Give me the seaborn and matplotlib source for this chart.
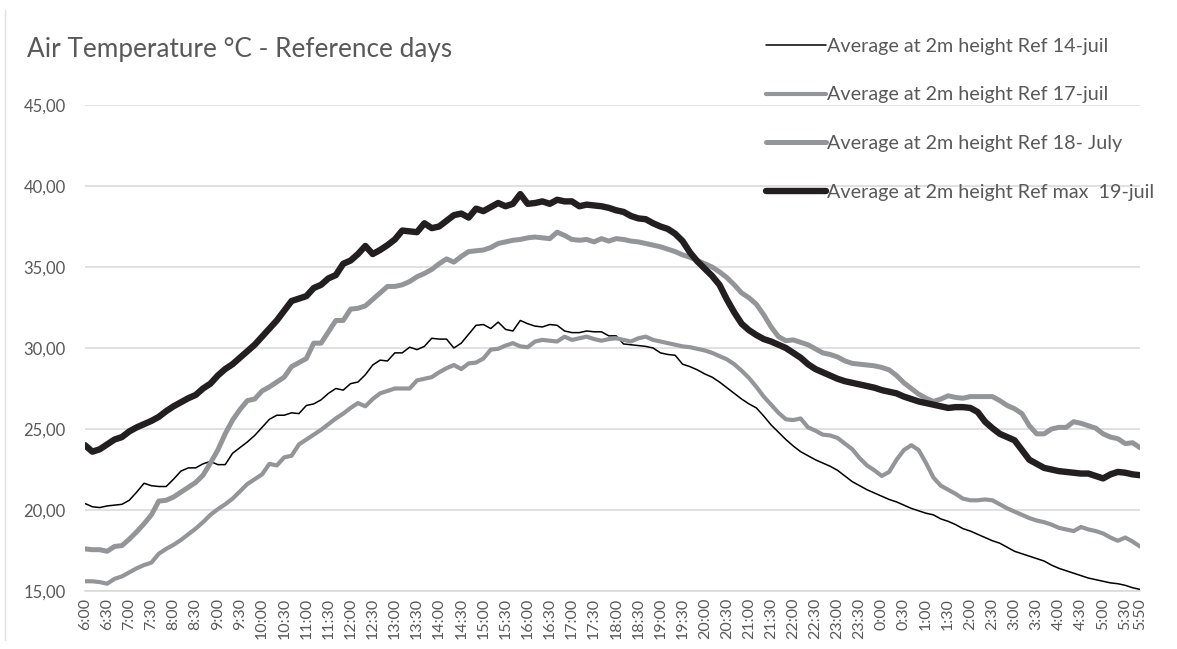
import numpy as np
import pandas as pd
import matplotlib
matplotlib.use("Agg")
import matplotlib.pyplot as plt
import seaborn as sns
from matplotlib.lines import Line2D

# 10-minute steps from 6:00 to 5:50 next day
times = [f"{((6 * 60 + 10 * k) // 60) % 24}:{(10 * k) % 60:02d}" for k in range(144)]

ref_14 = [20.4, 20.2, 20.15, 20.25, 20.3, 20.35, 20.6, 21.1, 21.65, 21.5,
          21.45, 21.45, 21.9, 22.4, 22.6, 22.6, 22.85, 23.0, 22.8, 22.8,
          23.5, 23.85, 24.2, 24.6, 25.1, 25.6, 25.85, 25.85, 26.0, 25.95,
          26.45, 26.55, 26.8, 27.2, 27.5, 27.4, 27.8, 27.9, 28.35, 28.95,
          29.25, 29.2, 29.7, 29.7, 30.05, 29.9, 30.1, 30.6, 30.55, 30.55,
          30.0, 30.3, 30.85, 31.4, 31.45, 31.2, 31.6, 31.15, 31.05, 31.7,
          31.5, 31.35, 31.3, 31.45, 31.4, 31.05, 30.95, 30.95, 31.05, 31.0,
          31.0, 30.75, 30.75, 30.25, 30.2, 30.15, 30.1, 30.0, 29.7, 29.6,
          29.55, 29.0, 28.85, 28.65, 28.4, 28.2, 27.9, 27.55, 27.2, 26.85,
          26.55, 26.3, 25.8, 25.25, 24.8, 24.35, 23.95, 23.6, 23.35, 23.1,
          22.9, 22.7, 22.45, 22.1, 21.75, 21.5, 21.25, 21.05, 20.85, 20.65,
          20.5, 20.3, 20.1, 19.95, 19.8, 19.7, 19.45, 19.3, 19.1, 18.85,
          18.7, 18.5, 18.3, 18.1, 17.95, 17.7, 17.45, 17.3, 17.15, 17.0,
          16.85, 16.6, 16.4, 16.25, 16.1, 15.95, 15.8, 15.7, 15.6, 15.5,
          15.45, 15.35, 15.2, 15.1]

ref_17 = [15.6, 15.6, 15.55, 15.45, 15.75, 15.9, 16.15, 16.4, 16.6, 16.75,
          17.3, 17.6, 17.85, 18.15, 18.5, 18.85, 19.25, 19.7, 20.05, 20.35,
          20.7, 21.15, 21.6, 21.9, 22.2, 22.85, 22.75, 23.25, 23.35, 24.05,
          24.35, 24.65, 24.95, 25.3, 25.65, 25.95, 26.3, 26.6, 26.4, 26.85,
          27.2, 27.35, 27.5, 27.5, 27.5, 28.0, 28.1, 28.2, 28.5, 28.75,
          28.95, 28.7, 29.05, 29.1, 29.35, 29.9, 29.95, 30.15, 30.3, 30.1,
          30.05, 30.4, 30.5, 30.45, 30.4, 30.7, 30.5, 30.6, 30.7, 30.55,
          30.45, 30.55, 30.6, 30.5, 30.4, 30.6, 30.7, 30.5, 30.4, 30.3,
          30.2, 30.1, 30.05, 29.95, 29.85, 29.7, 29.5, 29.3, 29.0, 28.6,
          28.15, 27.6, 27.0, 26.5, 26.0, 25.6, 25.55, 25.65, 25.1, 24.9,
          24.65, 24.6, 24.45, 24.1, 23.75, 23.2, 22.75, 22.45, 22.1, 22.35,
          23.1, 23.7, 24.0, 23.7, 22.9, 22.0, 21.5, 21.25, 21.0, 20.7,
          20.6, 20.6, 20.65, 20.6, 20.35, 20.1, 19.9, 19.7, 19.5, 19.35,
          19.25, 19.1, 18.9, 18.8, 18.7, 18.95, 18.8, 18.7, 18.55, 18.3,
          18.1, 18.3, 18.05, 17.75]

ref_18 = [17.6, 17.55, 17.55, 17.45, 17.75, 17.8, 18.2, 18.65, 19.15, 19.7,
          20.55, 20.6, 20.8, 21.1, 21.4, 21.7, 22.15, 22.9, 23.7, 24.7,
          25.55, 26.2, 26.75, 26.85, 27.35, 27.6, 27.9, 28.2, 28.85, 29.1,
          29.35, 30.3, 30.3, 31.0, 31.7, 31.7, 32.4, 32.45, 32.6, 33.0,
          33.4, 33.8, 33.8, 33.9, 34.1, 34.4, 34.6, 34.85, 35.2, 35.5,
          35.3, 35.65, 35.95, 36.0, 36.05, 36.2, 36.45, 36.55, 36.65, 36.7,
          36.8, 36.85, 36.8, 36.75, 37.15, 36.95, 36.7, 36.65, 36.7, 36.55,
          36.75, 36.6, 36.75, 36.7, 36.6, 36.55, 36.45, 36.35, 36.25, 36.1,
          35.95, 35.75, 35.6, 35.4, 35.2, 35.0, 34.7, 34.35, 33.9, 33.4,
          33.1, 32.7, 32.05, 31.3, 30.7, 30.45, 30.5, 30.35, 30.2, 29.95,
          29.7, 29.6, 29.45, 29.2, 29.05, 29.0, 28.95, 28.9, 28.8, 28.65,
          28.3, 27.85, 27.5, 27.15, 26.9, 26.7, 26.85, 27.05, 26.95, 26.9,
          27.0, 27.0, 27.0, 27.0, 26.75, 26.45, 26.25, 25.95, 25.2, 24.7,
          24.7, 25.0, 25.1, 25.1, 25.45, 25.35, 25.2, 25.05, 24.7, 24.5,
          24.4, 24.1, 24.15, 23.85]

ref_19 = [24.0, 23.6, 23.75, 24.05, 24.35, 24.5, 24.85, 25.1, 25.3, 25.5,
          25.75, 26.1, 26.4, 26.65, 26.9, 27.1, 27.5, 27.8, 28.3, 28.7,
          29.0, 29.4, 29.8, 30.2, 30.7, 31.2, 31.7, 32.3, 32.9, 33.05,
          33.2, 33.7, 33.9, 34.3, 34.5, 35.2, 35.4, 35.8, 36.3, 35.8,
          36.05, 36.35, 36.7, 37.25, 37.2, 37.15, 37.7, 37.4, 37.5, 37.85,
          38.2, 38.3, 38.05, 38.6, 38.45, 38.7, 38.95, 38.75, 38.9, 39.5,
          38.9, 38.95, 39.05, 38.9, 39.15, 39.05, 39.05, 38.75, 38.85, 38.8,
          38.75, 38.65, 38.5, 38.4, 38.15, 38.0, 37.95, 37.7, 37.5, 37.35,
          37.05, 36.6, 35.9, 35.35, 34.9, 34.45, 33.9, 33.0, 32.2, 31.5,
          31.1, 30.8, 30.55, 30.4, 30.2, 30.0, 29.7, 29.4, 29.0, 28.7,
          28.5, 28.3, 28.1, 27.95, 27.85, 27.75, 27.65, 27.55, 27.4, 27.3,
          27.2, 27.0, 26.85, 26.7, 26.6, 26.5, 26.4, 26.3, 26.35, 26.35,
          26.3, 26.05, 25.45, 25.05, 24.7, 24.5, 24.3, 23.7, 23.1, 22.85,
          22.6, 22.5, 22.4, 22.35, 22.3, 22.25, 22.25, 22.1, 21.95, 22.2,
          22.35, 22.3, 22.2, 22.15]

labels = ["Average at 2m height Ref 14-juil",
          "Average at 2m height Ref 17-juil",
          "Average at 2m height Ref 18- July",
          "Average at 2m height Ref max  19-juil"]
series = [ref_14, ref_17, ref_18, ref_19]
colors = ["#000000", "#939598", "#939598", "#231f20"]
widths = [1.1, 3.0, 3.6, 4.6]

sns.set_style("white")
plt.rcParams["font.family"] = ["Lato", "DejaVu Sans"]
TXT = "#595959"

W, H = 1177, 649
fig = plt.figure(figsize=(W / 100, H / 100), dpi=100)
ax = fig.add_axes([85 / W, 1 - 591 / H, (1140 - 85) / W, (591 - 105) / H])

idx = np.arange(len(times))
for vals, lab, col, lw in zip(series, labels, colors, widths):
    df = pd.DataFrame({"x": idx, "temp": vals})
    sns.lineplot(data=df, x="x", y="temp", ax=ax, color=col, linewidth=lw,
                 label=lab, legend=False, solid_joinstyle="round")

ax.set_xlim(0, len(times) - 1)
ax.set_ylim(15, 45)
yt = np.arange(15, 46, 5)
ax.set_yticks(yt)
ax.set_yticklabels([f"{v:.2f}".replace(".", ",") for v in yt], color=TXT, fontsize=12)
ax.yaxis.grid(True, color="#d9d9d9", linewidth=1.1)
ax.set_axisbelow(True)

lab_idx = list(range(0, len(times), 3))
if lab_idx[-1] != len(times) - 1:
    lab_idx.append(len(times) - 1)
ax.set_xticks(lab_idx)
ax.set_xticklabels([times[i] for i in lab_idx], rotation=90, color=TXT, fontsize=11.5)
ax.set_xticks(range(0, len(times), 5), minor=True)
ax.tick_params(axis="x", which="major", length=0, pad=5)
ax.tick_params(axis="x", which="minor", direction="in", length=6, color="#d9d9d9", width=1.1)
ax.tick_params(axis="y", length=0, pad=14)
for s in ["top", "right", "left"]:
    ax.spines[s].set_visible(False)
ax.spines["bottom"].set_color("#d9d9d9")
ax.spines["bottom"].set_linewidth(1.1)
ax.set_xlabel("")
ax.set_ylabel("")

fig.text(27 / W, 1 - 50 / H, "Air Temperature °C - Reference days",
         fontsize=18.8, color=TXT, va="center", ha="left")

handles = [Line2D([], [], color=c, linewidth=w, solid_capstyle="round") for c, w in zip(colors, widths)]
leg = ax.legend(handles, labels, loc="upper left", bbox_to_anchor=(756 / W, 1 - 28 / H),
                bbox_transform=fig.transFigure, frameon=False, fontsize=14.2,
                handlelength=3.05, handletextpad=0.05, labelspacing=1.6, borderpad=0)
for t in leg.get_texts():
    t.set_color(TXT)

# light border of the chart area on the left
fig.add_artist(Line2D([5 / W, 5 / W], [1 - 10 / H, 1 - 640 / H], transform=fig.transFigure,
                      color="#e0e0e0", linewidth=1))

fig.savefig("out.png", dpi=100)
